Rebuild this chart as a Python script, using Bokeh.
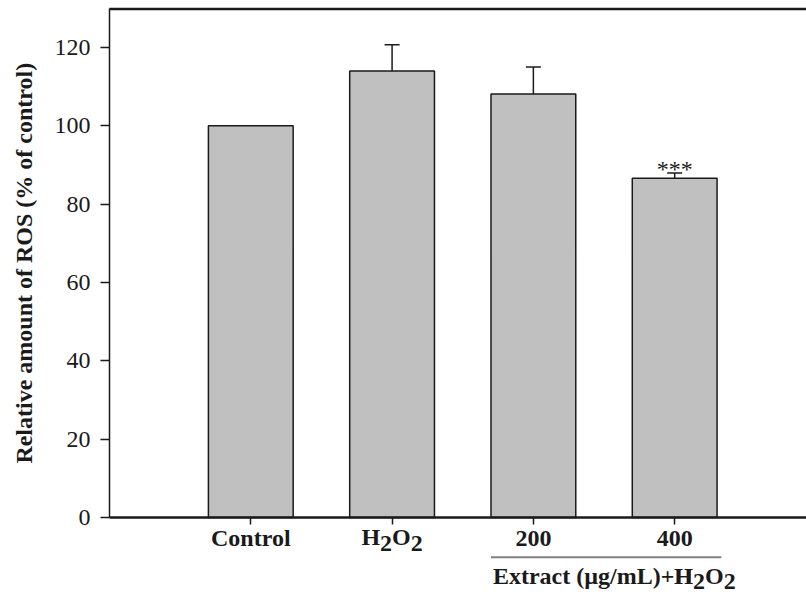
from bokeh.plotting import figure
from bokeh.models import (ColumnDataSource, FixedTicker, LinearAxis, Range1d,
                          Whisker, TeeHead, Label)
from bokeh.embed import file_html
from bokeh.resources import INLINE

categories = ["Control", "H2O2", "200", "400"]
values = [100.0, 114.0, 108.1, 86.6]
errors = [0.0, 6.7, 6.9, 1.3]
significance = ["", "", "", "***"]
y_ticks = [0, 20, 40, 60, 80, 100, 120]
group_members = ["200", "400"]
group_label_main = "Extract (µg/mL)+H"
y_label = "Relative amount of ROS (% of control)"

FONT = "Liberation Serif"
FS = 24
INK = "#1a1a1a"
YTOP = 129.8          # top of the boxed plotting area
XEND = 4.933
xs = [i + 1 for i in range(len(categories))]

src = ColumnDataSource(dict(x=xs, top=values))

p = figure(width=806, height=599, output_backend="svg", toolbar_location=None,
           x_range=Range1d(-0.7714, XEND), y_range=Range1d(-20.96, 131.97),
           min_border_left=0, min_border_right=0, min_border_top=0,
           min_border_bottom=0)
p.xaxis.visible = False
p.yaxis.visible = False
p.grid.visible = False
p.outline_line_color = None
p.background_fill_color = "white"

p.vbar(x="x", top="top", width=0.6, bottom=0, source=src,
       fill_color="#c0c0c0", line_color=INK, line_width=1.5)

err_src = ColumnDataSource(dict(
    x=[x for x, e in zip(xs, errors) if e > 0],
    lower=[v for v, e in zip(values, errors) if e > 0],
    upper=[v + e for v, e in zip(values, errors) if e > 0],
))
p.add_layout(Whisker(base="x", lower="lower", upper="upper", source=err_src,
                     lower_head=None,
                     upper_head=TeeHead(size=15, line_width=1.5, line_color=INK),
                     line_width=1.5, line_color=INK, dimension="height"))

for x, v, e, s in zip(xs, values, errors, significance):
    if s:
        p.add_layout(Label(x=x, y=v + e, text=s, text_align="center",
                           text_baseline="alphabetic", y_offset=4,
                           text_font=FONT, text_font_size=f"{FS}px",
                           text_color=INK))

# y axis at x = 0
ya = LinearAxis(ticker=FixedTicker(ticks=y_ticks), bounds=(0, YTOP), fixed_location=0)
ya.major_tick_in = 0
ya.major_tick_out = 9
ya.minor_tick_line_color = None
ya.axis_line_width = 1.5
ya.axis_line_color = INK
ya.major_tick_line_color = INK
ya.major_tick_line_width = 1.5
ya.major_label_standoff = 10
ya.major_label_text_font = FONT
ya.major_label_text_font_size = f"{FS}px"
ya.major_label_text_color = INK
p.add_layout(ya, "left")

# y axis title
p.add_layout(Label(x=-0.6016, y=YTOP / 2, text=y_label, angle=90, angle_units="deg",
                   text_align="center", text_baseline="middle",
                   text_font=FONT, text_font_style="bold",
                   text_font_size=f"{FS}px", text_color=INK))

# x axis at y = 0 (H2O2 drawn separately with full-size lowered subscripts)
overrides = {x: ("" if c == "H2O2" else c) for x, c in zip(xs, categories)}
xa = LinearAxis(ticker=FixedTicker(ticks=xs), major_label_overrides=overrides,
                fixed_location=0, bounds=(0, XEND))
xa.major_tick_in = 0
xa.major_tick_out = 7
xa.minor_tick_line_color = None
xa.axis_line_width = 2.5
xa.axis_line_color = INK
xa.major_tick_line_color = INK
xa.major_tick_line_width = 1.5
xa.major_label_standoff = 1
xa.major_label_text_font = FONT
xa.major_label_text_font_style = "bold"
xa.major_label_text_font_size = f"{FS}px"
xa.major_label_text_color = INK
p.add_layout(xa, "below")

# top border of the box
p.segment(x0=[0], y0=[YTOP], x1=[XEND], y1=[YTOP], line_color=INK, line_width=2.5)

# group bracket
gx = [xs[categories.index(g)] for g in group_members]
p.segment(x0=[min(gx) - 0.3], y0=[-10.2], x1=[max(gx) + 0.33], y1=[-10.2],
          line_color="#808080", line_width=2)

# chemical formula helper: pieces of (text, lowered)
W = {"H": 0.778, "O": 0.778, "2": 0.5}
BASE_FIX = 10  # raise text so that the anchor sits on the baseline


def formula(x, y, x0, pieces):
    off = x0
    for t, low in pieces:
        p.add_layout(Label(x=x, y=y, text=t, x_offset=off,
                           y_offset=BASE_FIX - (6.0 if low else 0),
                           text_align="left", text_baseline="alphabetic",
                           text_font=FONT, text_font_style="bold",
                           text_font_size=f"{FS}px", text_color=INK))
        off += sum(W[ch] for ch in t) * FS


h2o2 = [("H", False), ("2", True), ("O", False), ("2", True)]
tot = sum(sum(W[ch] for ch in t) for t, _ in h2o2) * FS
formula(xs[categories.index("H2O2")], -7.6, -tot / 2, h2o2)

gc = (min(gx) + max(gx)) / 2
p.add_layout(Label(x=gc, y=-17.4, text=group_label_main, x_offset=89, y_offset=BASE_FIX,
                   text_align="right", text_baseline="alphabetic",
                   text_font=FONT, text_font_style="bold",
                   text_font_size=f"{FS}px", text_color=INK))
formula(gc, -17.4, 89 - W["H"] * FS, h2o2)

open("out.html", "w").write(file_html(p, INLINE))
